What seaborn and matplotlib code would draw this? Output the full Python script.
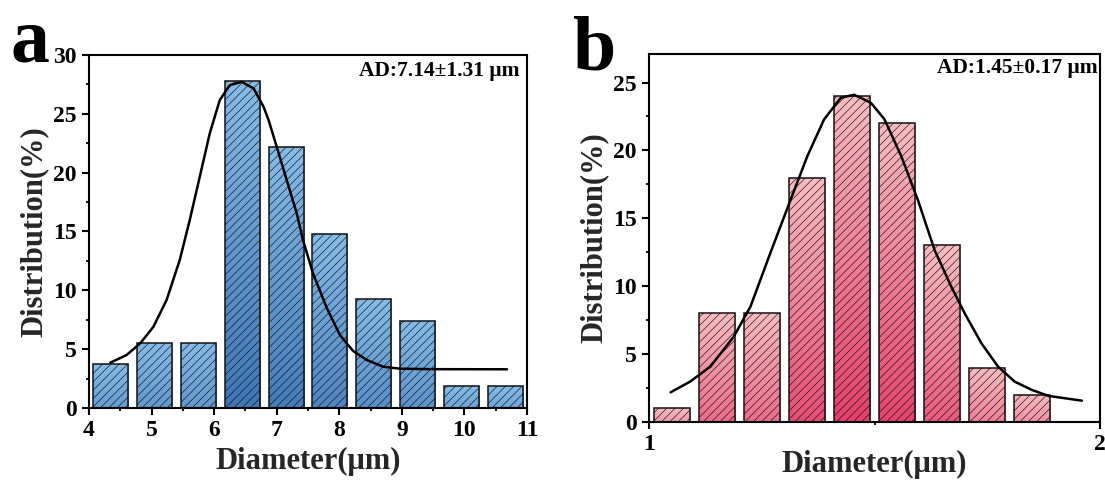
import numpy as np
import pandas as pd
import matplotlib
matplotlib.use("Agg")
import matplotlib.pyplot as plt
import seaborn as sns

# ---------------- data ----------------
# panel a: bin centres (um) and distribution (%)
centers_a = [4.35, 5.05, 5.75, 6.45, 7.15, 7.85, 8.55, 9.25, 9.95, 10.65]
dist_a = [3.70, 5.56, 5.56, 27.78, 22.22, 14.81, 9.26, 7.41, 1.85, 1.85]
# fitted curve for panel a
fit_a_x = [4.34, 4.60, 4.82, 5.03, 5.24, 5.45, 5.61, 5.77, 5.93, 6.09, 6.25,
           6.44, 6.63, 6.79, 6.87, 7.00, 7.16, 7.32, 7.42, 7.58, 7.80, 8.01,
           8.22, 8.44, 8.70, 8.97, 9.50, 10.68]
fit_a_y = [3.85, 4.50, 5.50, 6.91, 9.18, 12.57, 15.97, 19.65, 23.34, 26.17, 27.44,
           27.72, 27.16, 25.6, 24.47, 22.2, 19.37, 16.54, 14.27, 11.44, 8.5, 6.2,
           4.85, 4.08, 3.51, 3.34, 3.30, 3.29]

# panel b
centers_b = [1.05, 1.15, 1.25, 1.35, 1.45, 1.55, 1.65, 1.75, 1.85]
dist_b = [1, 8, 8, 18, 24, 22, 13, 4, 2]
fit_b_x = [1.048, 1.091, 1.136, 1.188, 1.225, 1.269, 1.314, 1.351, 1.388, 1.425,
           1.455, 1.492, 1.522, 1.559, 1.596, 1.633, 1.670, 1.700, 1.737, 1.774,
           1.811, 1.849, 1.886, 1.960]
fit_b_y = [2.19, 2.97, 4.08, 6.29, 8.50, 12.44, 16.37, 19.57, 22.27, 23.87,
           24.1, 23.5, 22.3, 19.6, 16.37, 12.68, 9.98, 8.0, 5.8, 4.08,
           2.97, 2.36, 1.92, 1.57]

label_a = "AD:7.14\u00b11.31 \u03bcm"
label_b = "AD:1.45\u00b10.17 \u03bcm"
xlabel = "Diameter(\u03bcm)"
ylabel = "Distribution(%)"

# ---------------- style ----------------
sns.set_theme(style="white")
plt.rcParams["font.family"] = ["Liberation Serif", "DejaVu Serif"]
plt.rcParams["font.weight"] = "bold"
plt.rcParams["axes.labelweight"] = "bold"
plt.rcParams["hatch.linewidth"] = 0.45
plt.rcParams["axes.linewidth"] = 1.5
plt.rcParams["axes.edgecolor"] = "black"

fig = plt.figure(figsize=(11.05, 4.8), dpi=100)
ax_a = fig.add_axes([89 / 1105, 1 - 408 / 480, 438 / 1105, 353 / 480])
ax_b = fig.add_axes([649 / 1105, 1 - 422 / 480, 451 / 1105, 368 / 480])


def hex2rgb(h):
    h = h.lstrip("#")
    return np.array([int(h[i:i + 2], 16) / 255 for i in (0, 2, 4)])


def style_bars(ax, light, dark, hmax):
    light = hex2rgb(light)
    dark = hex2rgb(dark)
    bars = list(ax.patches)
    for p in bars:
        x0, y0 = p.get_x(), p.get_y()
        w, h = p.get_width(), p.get_height()
        k = (h / hmax) ** 0.4
        bottom = light + (dark - light) * k
        t = np.linspace(0, 1, 64)[:, None]
        arr = light[None, :] + (bottom - light)[None, :] * t
        im = ax.imshow(arr[:, None, :], extent=[x0, x0 + w, y0, y0 + h],
                       origin="upper", aspect="auto", zorder=1,
                       interpolation="bilinear")
        im.set_clip_path(p)
        p.set_facecolor("none")
        p.set_edgecolor("#111111")
        p.set_hatch("////")
        p.set_linewidth(1.1)
        p.set_zorder(2)


def panel(ax, cx, cy, fx, fy, light, dark, xlim, ylim, xmaj, xmin, ymaj, ymin,
          text, tx, ty, xpad):
    df = pd.DataFrame({"x": cx, "y": cy})
    sns.barplot(data=df, x="x", y="y", native_scale=True, width=0.8,
                color=light, ax=ax, zorder=2)
    style_bars(ax, light, dark, max(cy))
    sns.lineplot(x=fx, y=fy, color="black", linewidth=1.8, sort=False,
                 estimator=None, ax=ax, zorder=3)
    ax.set_xlim(*xlim)
    ax.set_ylim(*ylim)
    ax.set_xticks(xmaj)
    ax.set_xticks(xmin, minor=True)
    ax.set_yticks(ymaj)
    ax.set_yticks(ymin, minor=True)
    ax.tick_params(which="major", direction="out", length=5, width=1.5,
                   labelsize=17, pad=4, color="black", labelcolor="black")
    ax.tick_params(which="minor", direction="out", length=2.5, width=1.3,
                   color="black")
    ax.tick_params(bottom=True, left=True, which="both")
    for lab in ax.get_xticklabels() + ax.get_yticklabels():
        lab.set_fontweight("bold")
    ax.set_xlabel(xlabel, fontsize=22, fontweight="bold", labelpad=xpad)
    ax.set_ylabel(ylabel, fontsize=22, fontweight="bold", labelpad=3)
    for s in ax.spines.values():
        s.set_linewidth(1.5)
        s.set_color("black")
    ax.text(tx, ty, text, transform=ax.transAxes, ha="right", va="top",
            fontsize=15.5, fontweight="bold", color="black")
    ax.grid(False)


panel(ax_a, centers_a, dist_a, fit_a_x, fit_a_y, "#86bce8", "#3f76b8",
      (4, 11), (0, 30), [4, 5, 6, 7, 8, 9, 10, 11],
      [4.5, 5.5, 6.5, 7.5, 8.5, 9.5, 10.5],
      [0, 5, 10, 15, 20, 25, 30], [2.5, 7.5, 12.5, 17.5, 22.5, 27.5],
      label_a, 0.984, 0.982, 4)

panel(ax_b, centers_b, dist_b, fit_b_x, fit_b_y, "#f9bcc0", "#e6406c",
      (1, 2), (0, 27.1), [1, 2], [1.5],
      [0, 5, 10, 15, 20, 25], [2.5, 7.5, 12.5, 17.5, 22.5],
      label_b, 0.995, 0.99, -4)

fig.text(10 / 1105, 1 - 62 / 480, "a", fontsize=56, fontweight="bold",
         va="baseline", ha="left", color="black")
fig.text(573 / 1105, 1 - 70 / 480, "b", fontsize=56, fontweight="bold",
         va="baseline", ha="left", color="black")

fig.savefig("out.png", dpi=100)
